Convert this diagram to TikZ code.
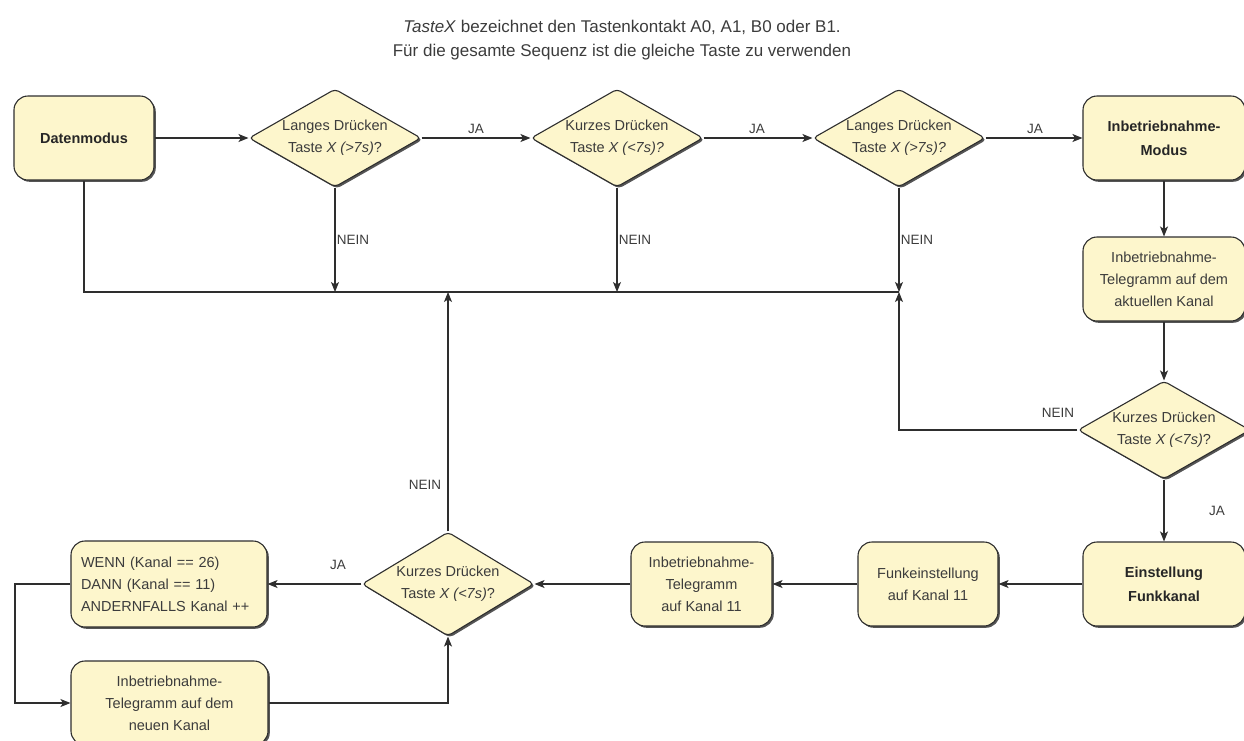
\documentclass[tikz,border=0pt]{standalone}
\usepackage{fontspec}
\setmainfont{Liberation Sans}
\usetikzlibrary{shapes.geometric,arrows.meta,shadows}
\definecolor{boxfill}{HTML}{FDF6CC}
\definecolor{linec}{HTML}{2E2E2E}
\definecolor{txt}{HTML}{3C3C3C}
\definecolor{shadowc}{HTML}{555555}
\begin{document}
\begin{tikzpicture}[x=1pt,y=-1pt,
  font=\fontsize{14.5}{22}\selectfont, text=txt,
  base/.style={draw=linec, line width=1.1pt, fill=boxfill,
    drop shadow={shadow xshift=1.8pt, shadow yshift=-1.8pt, fill=shadowc, opacity=1}},
  rbox/.style={base, rectangle, rounded corners=14pt, align=center, inner sep=0pt},
  dia/.style={base, diamond, aspect=1.75, inner sep=0pt, minimum width=172pt,
    minimum height=98pt, rounded corners=4pt, align=center},
  conn/.style={draw=linec, line width=1.1pt},
  arr/.style={conn, -{Stealth[length=10pt,width=8pt,inset=2.5pt]}},
  lbl/.style={font=\fontsize{13.5}{16}\selectfont, text=txt, inner sep=0pt}
]
\useasboundingbox (0,0) rectangle (1244,740);

% title
\node[font=\fontsize{17}{24}\selectfont, align=center, text=txt] (title) at (622,40)
  {\textit{TasteX} bezeichnet den Tastenkontakt A0, A1, B0 oder B1.\\
   Für die gesamte Sequenz ist die gleiche Taste zu verwenden};

% nodes
\node[rbox, minimum width=140pt, minimum height=84pt, font=\fontsize{14.5}{22}\selectfont\bfseries, text=black!85] (dm) at (84,138) {Datenmodus};
\node[dia] (d1) at (335,138) {Langes Drücken\\Taste \textit{X (>7s)}?};
\node[dia] (d2) at (617,138) {Kurzes Drücken\\Taste \textit{X (<7s)?}};
\node[dia] (d3) at (899,138) {Langes Drücken\\Taste \textit{X (>7s)?}};
\node[rbox, minimum width=162pt, minimum height=84pt, font=\fontsize{14.5}{24}\selectfont\bfseries, text=black!85] (modus) at (1164,138) {Inbetriebnahme-\\Modus};
\node[rbox, minimum width=162pt, minimum height=84pt] (tel1) at (1164,279) {Inbetriebnahme-\\Telegramm auf dem\\aktuellen Kanal};
\node[dia] (d4) at (1164,430) {Kurzes Drücken\\Taste \textit{X (<7s)}?};
\node[rbox, minimum width=162pt, minimum height=84pt, font=\fontsize{14.5}{24}\selectfont\bfseries, text=black!85] (einst) at (1164,584) {Einstellung\\Funkkanal};
\node[rbox, minimum width=140pt, minimum height=84pt] (funk) at (928,584) {Funkeinstellung\\auf Kanal 11};
\node[rbox, minimum width=141pt, minimum height=84pt] (tk11) at (701.5,584) {Inbetriebnahme-\\Telegramm\\auf Kanal 11};
\node[dia, minimum height=104pt] (d5) at (448,584) {Kurzes Drücken\\Taste \textit{X (<7s)}?};
\node[rbox, minimum width=196pt, minimum height=86pt, align=left, text width=176pt] (wenn) at (169,584) {WENN (Kanal == 26)\\DANN (Kanal == 11)\\ANDERNFALLS Kanal ++};
\node[rbox, minimum width=197pt, minimum height=84pt] (neu) at (169.5,703) {Inbetriebnahme-\\Telegramm auf dem\\neuen Kanal};

% helper coordinates
\coordinate (bus0) at (84,292);
\coordinate (bus1) at (335,292);
\coordinate (bus2) at (617,292);
\coordinate (bus3) at (899,292);
\coordinate (bus5) at (448,292);
\coordinate (d4c) at (899,430);
\coordinate (wl) at (15,584);
\coordinate (wb) at (15,703);
\coordinate (nr) at (448,703);

% connectors
\draw[arr] (dm.east) -- (d1.west);
\draw[arr] (d1.east) -- (d2.west);
\draw[arr] (d2.east) -- (d3.west);
\draw[arr] (d3.east) -- (modus.west);
\draw[arr] (modus.south) -- (tel1.north);
\draw[arr] (tel1.south) -- (d4.north);
\draw[arr] (d4.south) -- (einst.north);
\draw[arr] (einst.west) -- (funk.east);
\draw[arr] (funk.west) -- (tk11.east);
\draw[arr] (tk11.west) -- (d5.east);
\draw[arr] (d5.west) -- (wenn.east);
\draw[arr] (wenn.west) -- (wl) -- (wb) -- (neu.west);
\draw[arr] (neu.east) -- (nr) -- (d5.south);
\draw[arr] (d5.north) -- (bus5);
\draw[arr] (d1.south) -- (bus1);
\draw[arr] (d2.south) -- (bus2);
\draw[arr] (d3.south) -- (bus3);
\draw[conn] (dm.south) -- (bus0) -- (bus3);
\draw[arr] (d4.west) -- (d4c) -- (bus3);

% labels
\node[lbl] (ja1) at (476,129) {JA};
\node[lbl] (ja2) at (757,129) {JA};
\node[lbl] (ja3) at (1035,129) {JA};
\node[lbl] (ja4) at (1217,511) {JA};
\node[lbl] (ja5) at (338,565) {JA};
\node[lbl] (n1) at (353,240) {NEIN};
\node[lbl] (n2) at (635,240) {NEIN};
\node[lbl] (n3) at (917,240) {NEIN};
\node[lbl] (n4) at (1058,413) {NEIN};
\node[lbl] (n5) at (425,485) {NEIN};
\end{tikzpicture}
\end{document}
